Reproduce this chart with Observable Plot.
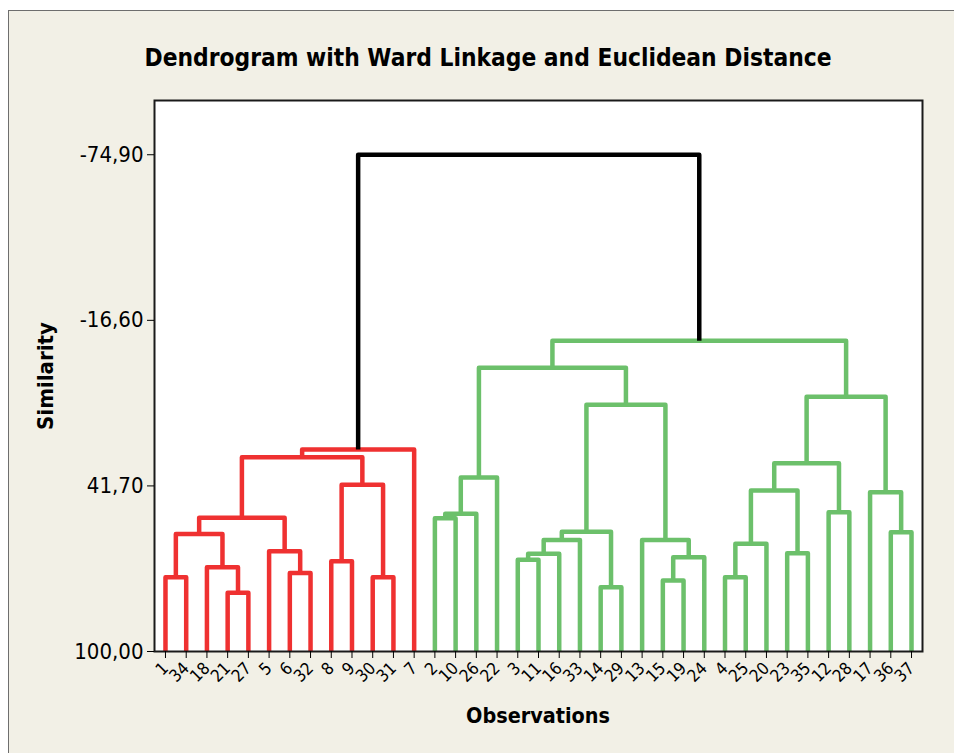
<!DOCTYPE html>
<html>
<head>
<meta charset="utf-8">
<script src="https://cdn.jsdelivr.net/npm/d3@7"></script>
<script src="https://cdn.jsdelivr.net/npm/@observablehq/plot@0.6"></script>
<style>
  html, body { margin: 0; padding: 0; background: #ffffff; }
  #wrap { position: relative; width: 954px; height: 753px; overflow: hidden; }
  #panel { position: absolute; left: 8px; top: 10px; width: 960px; height: 760px;
           background: #f2f0e6; border-top: 1px solid #6e6e6e; border-left: 1px solid #6e6e6e; }
  #chart { position: absolute; left: 0; top: 0; }
</style>
</head>
<body>
<div id="wrap"><div id="panel"></div><div id="chart"></div></div>
<script>
// Leaf order along the x axis (observation numbers)
const observations = [1, 34, 18, 21, 27, 5, 6, 32, 8, 9, 30, 31, 7,
  2, 10, 26, 22, 3, 11, 16, 33, 14, 29, 13, 15, 19, 24,
  4, 25, 20, 23, 35, 12, 28, 17, 36, 37];

// Merge steps (negative = observation number, positive = earlier step, 1-based)
const mergeA = [-21, -14, -15, -1, -30, -4, -6, -18, -8, -3, 3, 10, -23, -5, 6, 12, -13, 4, -36, 16,
  -2, 18, 21, -12, -17, 15, 9, 23, 26, 22, 30, 20, 29, 28, 34, 31];
const mergeB = [-27, -29, -19, -34, -31, -25, -32, 1, -9, -11, -24, -16, -35, 7, -20, -33, 11, 8, -37, 2,
  -10, 14, -26, -28, 19, 13, 5, -22, 24, 27, -7, 17, 25, 32, 33, 35];
// Similarity level of each merge step
const similarity = [79.3, 77.4, 75.0, 73.9, 73.9, 73.9, 72.4, 70.3, 68.2, 67.7, 66.8, 65.6, 65.4, 64.7, 62.1,
  60.7, 60.7, 58.6, 58.0, 57.8, 53.1, 52.9, 51.5, 51.0, 43.9, 43.3, 41.3, 38.7, 33.7, 31.6,
  28.9, 13.1, 10.3, 0.1, -9.4, -74.9];

// Axis tick values
const yTicks = [100, 41.7, -16.6, -74.9];

// ---- build link geometry from the merge table ----
const leafIndex = new Map(observations.map((o, i) => [o, i]));
const nodeX = [], nodeY = [];
function px(ref) { return ref < 0 ? leafIndex.get(-ref) : nodeX[ref - 1]; }
function py(ref) { return ref < 0 ? 100 : nodeY[ref - 1]; }
for (let k = 0; k < similarity.length; k++) {
  nodeX[k] = (px(mergeA[k]) + px(mergeB[k])) / 2;
  nodeY[k] = similarity[k];
}
// group of each step: top merge = 0 (black), its two sub-trees = 1 (red), 2 (green)
const group = new Array(similarity.length).fill(0);
function assign(ref, g) {
  if (ref < 0) return;
  group[ref - 1] = g;
  assign(mergeA[ref - 1], g);
  assign(mergeB[ref - 1], g);
}
const last = similarity.length;
assign(mergeA[last - 1], 1);
assign(mergeB[last - 1], 2);
group[last - 1] = 0;

const rows = [];
for (let k = 0; k < similarity.length; k++) {
  const a = mergeA[k], b = mergeB[k];
  rows.push({step: k, g: group[k], x: px(a), y: py(a)});
  rows.push({step: k, g: group[k], x: px(a), y: nodeY[k]});
  rows.push({step: k, g: group[k], x: px(b), y: nodeY[k]});
  rows.push({step: k, g: group[k], x: px(b), y: py(b)});
}
const palette = ["#000000", "#ef3131", "#6cc06b"];
const fmt = v => v.toFixed(2).replace(".", ",");

const lineOpts = g => ({x: "x", y: "y", z: "step", stroke: palette[g], strokeWidth: 4.5,
  strokeLinejoin: "round", strokeLinecap: "butt", filter: d => d.g === g});

const chart = Plot.plot({
  width: 954,
  height: 753,
  marginLeft: 154,
  marginRight: 32,
  marginTop: 100,
  marginBottom: 102,
  style: {background: "transparent", fontFamily: "'DejaVu Sans Condensed', 'DejaVu Sans', sans-serif", color: "#000"},
  x: {domain: [-0.53, 36.53]},
  y: {domain: [100, -94]},
  marks: [
    Plot.frame({fill: "white", stroke: null}),
    Plot.line(rows, lineOpts(1)),
    Plot.line(rows, lineOpts(2)),
    Plot.line(rows, lineOpts(0)),
    Plot.frame({stroke: "#1a1a1a", strokeWidth: 2}),
    Plot.axisY({ticks: yTicks, tickFormat: fmt, tickSize: 7, tickPadding: 4, fontSize: 22, label: null}),
    Plot.axisX({ticks: d3.range(observations.length), tickFormat: i => String(observations[i]),
      tickRotate: -45, tickSize: 7, tickPadding: 7, fontSize: 17, label: null})
  ]
});
document.getElementById("chart").appendChild(chart);

const svg = d3.select(chart);
svg.append("text")
  .attr("x", 488).attr("y", 66)
  .attr("text-anchor", "middle")
  .attr("font-family", "'DejaVu Sans', sans-serif")
  .attr("font-weight", "bold").attr("font-size", 24)
  .attr("textLength", 687).attr("lengthAdjust", "spacingAndGlyphs")
  .text("Dendrogram with Ward Linkage and Euclidean Distance");
svg.append("text")
  .attr("transform", "translate(53,376) rotate(-90)")
  .attr("text-anchor", "middle")
  .attr("font-family", "'DejaVu Sans', sans-serif")
  .attr("font-weight", "bold").attr("font-size", 22)
  .attr("textLength", 108).attr("lengthAdjust", "spacingAndGlyphs")
  .text("Similarity");
svg.append("text")
  .attr("x", 538).attr("y", 723)
  .attr("text-anchor", "middle")
  .attr("font-family", "'DejaVu Sans', sans-serif")
  .attr("font-weight", "bold").attr("font-size", 22)
  .attr("textLength", 144).attr("lengthAdjust", "spacingAndGlyphs")
  .text("Observations");
</script>
</body>
</html>
